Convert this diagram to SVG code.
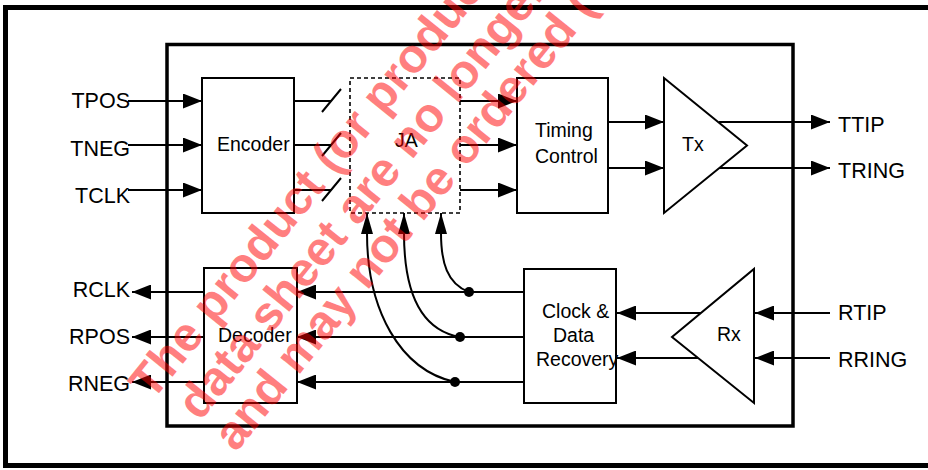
<svg xmlns="http://www.w3.org/2000/svg" width="928" height="470" viewBox="0 0 928 470">
<style>
.box{fill:#fff;stroke:#000;stroke-width:2}
.dash{fill:none;stroke:#000;stroke-width:1.6;stroke-dasharray:4 3}
.ln{fill:none;stroke:#000;stroke-width:2}
.lbl{font-family:"Liberation Sans",Arial,sans-serif;font-size:21.5px;fill:#000}
.in{font-family:"Liberation Sans",Arial,sans-serif;font-size:19.5px;fill:#000}
.wm{font-family:"Liberation Sans",Arial,sans-serif;font-size:48px;font-weight:bold;fill:#ff0000;fill-opacity:0.5}
</style>
<defs>
<marker id="ah" viewBox="0 0 19 15" refX="19" refY="7.5" markerWidth="19" markerHeight="15" orient="auto" markerUnits="userSpaceOnUse"><path d="M0,0 L19,7.5 L0,15 z" fill="#000"/></marker>
<marker id="av" viewBox="0 0 21 12" refX="21" refY="6" markerWidth="21" markerHeight="12" orient="auto" markerUnits="userSpaceOnUse"><path d="M0,0 L21,6 L0,12 z" fill="#000"/></marker>
<clipPath id="clipR"><rect x="0" y="0" width="907" height="470"/></clipPath>
</defs>
<rect x="0" y="0" width="928" height="470" fill="#fff"/>
<g id="frame"><path d="M930 7.5 H5.5 V465.5 H930" fill="none" stroke="#000" stroke-width="5"/></g>
<g id="chip"><rect x="167" y="44.5" width="626" height="381.5" fill="none" stroke="#000" stroke-width="3.5"/></g>
<g id="encoder"><rect class="box" x="202" y="78" width="92" height="135"/><text class="in" x="217" y="151">Encoder</text></g>
<g id="ja"><rect class="dash" x="350" y="78" width="110" height="135"/><text class="in" x="395" y="147">JA</text></g>
<g id="timing"><rect class="box" x="517" y="78" width="91" height="135"/><text class="in" x="535" y="137">Timing</text><text class="in" x="535" y="163">Control</text></g>
<g id="tx"><path class="box" d="M664 78 L747 145.5 L664 213 Z"/><text class="in" x="682" y="151">Tx</text></g>
<g id="decoder"><rect class="box" x="204" y="268" width="93" height="135"/><text class="in" x="218" y="342">Decoder</text></g>
<g id="cdr"><rect class="box" x="524" y="269" width="92" height="134"/><text class="in" x="542" y="318">Clock &amp;</text><text class="in" x="553" y="342">Data</text><text class="in" x="536" y="366">Recovery</text></g>
<g id="rx"><path class="box" d="M754 269 L754 403 L672 337 Z"/><text class="in" x="717" y="341">Rx</text></g>
<g id="ports">
<text class="lbl" x="130" y="108" text-anchor="end">TPOS</text>
<text class="lbl" x="130" y="156" text-anchor="end">TNEG</text>
<text class="lbl" x="130" y="203" text-anchor="end">TCLK</text>
<text class="lbl" x="130" y="297" text-anchor="end">RCLK</text>
<text class="lbl" x="130" y="344" text-anchor="end">RPOS</text>
<text class="lbl" x="130" y="391" text-anchor="end">RNEG</text>
<text class="lbl" x="838" y="132">TTIP</text>
<text class="lbl" x="838" y="178">TRING</text>
<text class="lbl" x="838" y="320">RTIP</text>
<text class="lbl" x="838" y="367" clip-path="url(#clipR)">RRING</text>
</g>
<g id="connectors">
<path class="ln" d="M128 101 H202" marker-end="url(#ah)"/>
<path class="ln" d="M128 145 H202" marker-end="url(#ah)"/>
<path class="ln" d="M128 190 H202" marker-end="url(#ah)"/>
<path class="ln" d="M294 101 H331 M294 145 H331 M294 190 H331"/>
<path class="ln" d="M322 112 L341 89 M322 156 L341 133 M322 201 L341 178" stroke-width="1.6"/>
<path class="ln" d="M460 101 H517" marker-end="url(#ah)"/>
<path class="ln" d="M460 145 H517" marker-end="url(#ah)"/>
<path class="ln" d="M460 190 H517" marker-end="url(#ah)"/>
<path class="ln" d="M608 122 H664" marker-end="url(#ah)"/>
<path class="ln" d="M608 168 H664" marker-end="url(#ah)"/>
<path class="ln" d="M719 122 H830" marker-end="url(#ah)"/>
<path class="ln" d="M719 168 H830" marker-end="url(#ah)"/>
<path class="ln" d="M830 313 H755" marker-end="url(#ah)"/>
<path class="ln" d="M830 358 H755" marker-end="url(#ah)"/>
<path class="ln" d="M701 313 H617" marker-end="url(#ah)"/>
<path class="ln" d="M698 358 H617" marker-end="url(#ah)"/>
<path class="ln" d="M524 292 H297" marker-end="url(#ah)"/>
<path class="ln" d="M524 337 H297" marker-end="url(#ah)"/>
<path class="ln" d="M524 382 H297" marker-end="url(#ah)"/>
<path class="ln" d="M204 292 H132" marker-end="url(#ah)"/>
<path class="ln" d="M204 337 H132" marker-end="url(#ah)"/>
<path class="ln" d="M204 382 H132" marker-end="url(#ah)"/>
<path class="ln" d="M469 292 C447 284 441 262 441 233 V213" marker-end="url(#av)"/>
<path class="ln" d="M460 337 C420 330 404 290 404 233 V213" marker-end="url(#av)"/>
<path class="ln" d="M455 382 C400 370 367 310 367 233 V213" marker-end="url(#av)"/>
<circle cx="469" cy="292" r="5"/>
<circle cx="460" cy="337" r="5"/>
<circle cx="455" cy="382" r="5"/>
</g>
<g id="watermark">
<text class="wm" transform="translate(152,402) rotate(-51)">The product (or products</text>
<text class="wm" transform="translate(200,422) rotate(-51)">data sheet are no longer</text>
<text class="wm" transform="translate(236,453) rotate(-51)">and may not be ordered (</text>
</g>
</svg>
